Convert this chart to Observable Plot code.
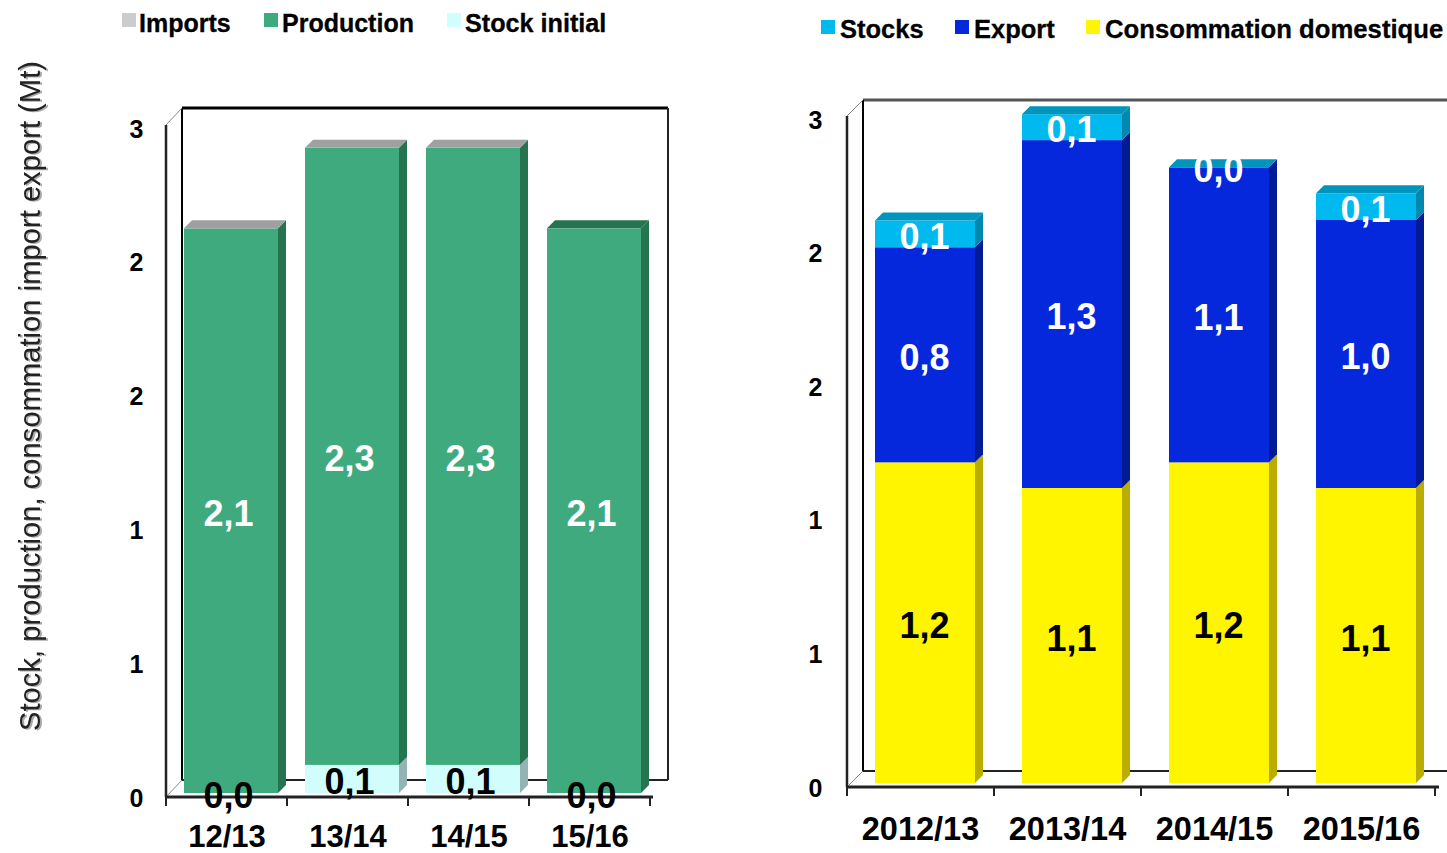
<!DOCTYPE html>
<html>
<head>
<meta charset="utf-8">
<script src="https://cdn.jsdelivr.net/npm/d3@7"></script>
<script src="https://cdn.jsdelivr.net/npm/@observablehq/plot@0.6"></script>
<style>
html,body{margin:0;padding:0;background:#fff;overflow:hidden;width:1447px;height:853px}
#page{position:relative;width:1447px;height:853px;font-family:"Liberation Sans",Arial,sans-serif}
.panel{position:absolute;top:0}
.lg{position:absolute;font-weight:bold;line-height:30px;white-space:nowrap;color:#000;-webkit-text-stroke:.3px #000}
.sw{position:absolute;width:14px;height:14px}
.ytitle{filter:drop-shadow(2px 1px 0 #aaa)}
</style>
</head>
<body>
<div id="page"></div>
<script>
// ---- left chart data
const leftSeasons = ["12/13", "13/14", "14/15", "15/16"];
const stockInitial = [0.0, 0.105, 0.105, 0.0];
const productionValues = [2.11, 2.306, 2.306, 2.11];
const importValues = [0, 0, 0, null];
const yTitle = "Stock, production, consommation import export (Mt)";

// ---- right chart data
const rightSeasons = ["2012/13", "2013/14", "2014/15", "2015/16"];
const consommation = [1.2, 1.104, 1.2, 1.104];
const exportValues = [0.805, 1.302, 1.104, 1.003];
const stocksValues = [0.1, 0.097, 0.0, 0.1];

// ---- shared axis
const yTicks = [0, 0.5, 1, 1.5, 2, 2.5];
const yTickLabels = ["0", "1", "1", "2", "2", "3"];

const fr = d3.format(".1f");
const comma = v => fr(v).replace(".", ",");

function table(seasons, seriesList) {
  return seriesList.flatMap(s => seasons.map((season, i) => ({season, series: s.name, value: s.values[i], label: s.label, labelled: s.labelled})))
    .filter(d => d.value != null);
}

function chart3D(o) {
  const data = table(o.seasons, o.series);
  const names = o.series.map(s => s.name);
  const walls = (index, {x, y}) => {
    const g = d3.create("svg:g").attr("fill", "none");
    const xs = x.range(), L = xs[0], R = xs[1], B = y(0), T = y(2.5) - 3, wx = o.wallX, wy = o.wallY;
    const line = (a, b, c, d, col, sw) => g.append("line").attr("x1", a).attr("y1", b).attr("x2", c).attr("y2", d).attr("stroke", col).attr("stroke-width", sw);
    line(L + wx, T - wy, R + wx, T - wy, o.topWall, 3);
    line(L + wx, T - wy, L + wx, B - wy, "#000", 2);
    line(R + wx, T - wy, R + wx, B - wy, "#222", 2);
    line(L + wx, B - wy, R + wx, B - wy, "#222", 2);
    line(L, T, L + wx, T - wy, "#888", 1);
    line(L, B, L + wx, B - wy, "#888", 1);
    line(L, T, L, B, "#222", 2.5);
    return g.node();
  };
  const ground = (index, {x, y}) => {
    const g = d3.create("svg:g").attr("stroke", "#222");
    const xs = x.range(), L = xs[0], R = xs[1], B = y(0);
    g.append("line").attr("x1", L - 1).attr("x2", R + 1).attr("y1", B).attr("y2", B).attr("stroke-width", 3);
    const step = x.step();
    d3.range(o.seasons.length + 1).forEach(i => {
      g.append("line").attr("x1", L + i * step).attr("x2", L + i * step).attr("y1", B).attr("y2", B + 9).attr("stroke-width", 2);
    });
    return g.node();
  };
  const faces = (index, {x, y}) => {
    const g = d3.create("svg:g");
    const d = o.depth;
    o.seasons.forEach((season, i) => {
      let base = 0, top = null;
      const xl = x(season) + o.dx, xr = xl + x.bandwidth();
      o.series.forEach(s => {
        const v = s.values[i];
        if (v == null) return;
        const y1 = y(base) + o.dy, y2 = y(base + v) + o.dy;
        g.append("polygon").attr("fill", s.side)
          .attr("points", [[xr, y1], [xr + d, y1 - d], [xr + d, y2 - d], [xr, y2]].join(" "));
        base += v;
        top = s;
      });
      const yt = y(base) + o.dy;
      g.append("polygon").attr("fill", top.top)
        .attr("points", [[xl, yt], [xl + d, yt - d], [xr + d, yt - d], [xr, yt]].join(" "));
    });
    return g.node();
  };
  const marks = [
    walls,
    ground,
    Plot.axisY({ticks: yTicks, tickFormat: v => yTickLabels[yTicks.indexOf(v)], tickSize: 0, tickPadding: o.yPad, fontSize: 25, fontWeight: "bold", label: null, dy: 1}),
    Plot.axisX({tickSize: 0, tickPadding: o.xPad, fontSize: o.xFont, fontWeight: "bold", label: null, dx: o.xAxisDx}),
    Plot.barY(data, {x: "season", y: "value", fill: "series", z: "series", order: null, dx: o.dx, dy: o.dy}),
    faces,
    Plot.text(data, Plot.stackY({
      x: "season", y: "value", z: "series", order: null,
      text: d => d.labelled ? comma(d.value) : "",
      fill: d => d.label, fontSize: 36, fontWeight: "bold",
      dx: o.dx + o.labelDx, dy: -1
    }))
  ];
  if (o.title) marks.push(Plot.text([o.title], {
    frameAnchor: "left", textAnchor: "middle", rotate: -90, fontSize: 29.2, className: "ytitle",
    dx: o.titleDx, dy: o.titleDy, fill: "#222"
  }));
  return Plot.plot({
    width: o.width, height: 853,
    marginLeft: o.ml, marginRight: o.mr, marginTop: o.mt, marginBottom: o.mb,
    style: {fontFamily: '"Liberation Sans",Arial,sans-serif', background: "transparent", overflow: "visible"},
    x: {domain: o.seasons, paddingInner: o.pad, paddingOuter: o.pad / 2, axis: null},
    y: {domain: [0, 2.5], axis: null},
    color: {domain: names, range: o.series.map(s => s.color)},
    marks
  });
}

const leftChart = chart3D({
  seasons: leftSeasons, width: 700, ml: 166, mr: 48, mt: 128, mb: 56,
  pad: 0.22, dx: 4, dy: -4, depth: 8, wallX: 16, wallY: 17, yPad: 23, topWall: "#000",
  labelDx: -3, xAxisDx: -0.5, xPad: 27, xFont: 31,
  title: yTitle, titleDx: -136, titleDy: -67,
  series: [
    {name: "Stock initial", values: stockInitial, color: "#D2FDFD", side: "#94B3B3", top: "#94B3B3", label: "#000", labelled: true},
    {name: "Production", values: productionValues, color: "#40AA7F", side: "#26744F", top: "#26744F", label: "#fff", labelled: true},
    {name: "Imports", values: importValues, color: "#CCCCCC", side: "#A0A0A0", top: "#A0A0A0", label: "#000", labelled: false}
  ]
});
const rightChart = chart3D({
  seasons: rightSeasons, width: 747, ml: 147, mr: 9, mt: 119, mb: 66,
  pad: 0.32, dx: 3, dy: -4, depth: 8, wallX: 16, wallY: 16, yPad: 25, topWall: "#555",
  labelDx: -1, xAxisDx: -2, xPad: 29, xFont: 32.5,
  series: [
    {name: "Consommation domestique", values: consommation, color: "#FFF500", side: "#BBAC00", top: "#BBAC00", label: "#000", labelled: true},
    {name: "Export", values: exportValues, color: "#0528DC", side: "#011A96", top: "#011A96", label: "#fff", labelled: true},
    {name: "Stocks", values: stocksValues, color: "#00B9EE", side: "#0088AE", top: "#0095BD", label: "#fff", labelled: true}
  ]
});

const page = document.getElementById("page");
function panel(node, left) {
  const d = document.createElement("div");
  d.className = "panel";
  d.style.left = left + "px";
  d.appendChild(node);
  page.appendChild(d);
}
panel(leftChart, 0);
panel(rightChart, 700);

// ---- legends
const legendItems = [
  {text: "Imports", color: "#CCCCCC", sx: 122, sy: 13, tx: 139, ty: 8, size: 25},
  {text: "Production", color: "#40AA7F", sx: 264, sy: 13, tx: 282, ty: 8, size: 25},
  {text: "Stock initial", color: "#D2FDFD", sx: 447, sy: 13, tx: 465, ty: 8, size: 25.2},
  {text: "Stocks", color: "#00B9EE", sx: 821, sy: 20, tx: 840, ty: 14, size: 25.5},
  {text: "Export", color: "#0528DC", sx: 955, sy: 20, tx: 974, ty: 14, size: 25.5},
  {text: "Consommation domestique", color: "#FFF500", sx: 1086, sy: 20, tx: 1105, ty: 14, size: 25.7}
];
legendItems.forEach(l => {
  const s = document.createElement("div");
  s.className = "sw";
  s.style.cssText = `left:${l.sx}px;top:${l.sy}px;background:${l.color}`;
  page.appendChild(s);
  const t = document.createElement("div");
  t.className = "lg";
  t.style.cssText = `left:${l.tx}px;top:${l.ty}px;font-size:${l.size}px`;
  t.textContent = l.text;
  page.appendChild(t);
});
</script>
</body>
</html>
